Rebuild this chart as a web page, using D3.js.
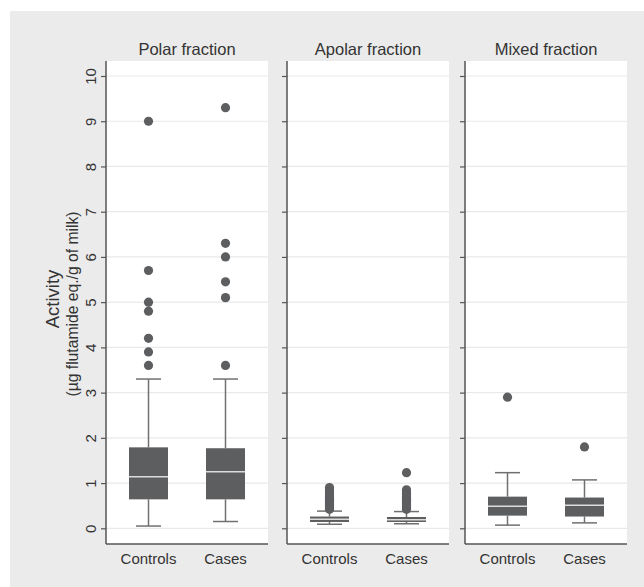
<!DOCTYPE html>
<html>
<head>
<meta charset="utf-8">
<script src="https://cdn.jsdelivr.net/npm/d3@7/dist/d3.min.js"></script>
<style>
  html, body { margin: 0; padding: 0; background: #ffffff; }
  svg { display: block; font-family: "Liberation Sans", Arial, sans-serif; }
</style>
</head>
<body>
<svg id="chart" width="644" height="587"></svg>
<script>
// Activity of milk fractions by group
const fractions = ["Polar fraction", "Apolar fraction", "Mixed fraction"];
const groups = ["Controls", "Cases"];
const yTicks = [0, 1, 2, 3, 4, 5, 6, 7, 8, 9, 10];

// Box summaries: [lower whisker, Q1, median, Q3, upper whisker]
const polarControls = [0.05, 0.64, 1.14, 1.79, 3.30];
const polarCases = [0.15, 0.64, 1.25, 1.77, 3.30];
const apolarControls = [0.09, 0.14, 0.20, 0.26, 0.38];
const apolarCases = [0.10, 0.14, 0.19, 0.25, 0.37];
const mixedControls = [0.07, 0.28, 0.49, 0.70, 1.23];
const mixedCases = [0.12, 0.26, 0.51, 0.68, 1.07];

// Outside values
const polarControlsOut = [3.6, 3.9, 4.2, 4.8, 5.0, 5.7, 9.0];
const polarCasesOut = [3.6, 5.1, 5.45, 6.0, 6.3, 9.3];
const apolarControlsOut = [0.42, 0.46, 0.5, 0.54, 0.58, 0.62, 0.66, 0.7, 0.75, 0.8, 0.85, 0.9];
const apolarCasesOut = [0.42, 0.46, 0.5, 0.54, 0.58, 0.62, 0.66, 0.7, 0.75, 0.8, 0.85, 1.23];
const mixedControlsOut = [2.9];
const mixedCasesOut = [1.8];

const boxes = [
  [polarControls, polarCases],
  [apolarControls, apolarCases],
  [mixedControls, mixedCases]
];
const outside = [
  [polarControlsOut, polarCasesOut],
  [apolarControlsOut, apolarCasesOut],
  [mixedControlsOut, mixedCasesOut]
];

const svg = d3.select("#chart");

// Outer graph region
svg.append("rect").attr("x", 10).attr("y", 11).attr("width", 634).attr("height", 576)
  .attr("fill", "#ebebeb");

const panelLeft = [106, 287, 465];
const panelW = 162;
const plotTop = 61, plotBottom = 544;

const y = d3.scaleLinear().domain([0, 10]).range([528.3, 76]);
const x = d3.scalePoint().domain(groups).range([0, panelW]).padding(0.552);

const boxW = 39, capW = 25, dotR = 4.6;
const dark = "#5d5e60", whisk = "#707070";

fractions.forEach((name, i) => {
  const g = svg.append("g").attr("transform", `translate(${panelLeft[i]},0)`);

  g.append("rect").attr("x", 0).attr("y", plotTop).attr("width", panelW)
    .attr("height", plotBottom - plotTop).attr("fill", "#ffffff");

  // grid
  g.selectAll("line.grid").data(yTicks).join("line")
    .attr("class", "grid")
    .attr("x1", 0).attr("x2", panelW)
    .attr("y1", d => y(d)).attr("y2", d => y(d))
    .attr("stroke", "#e9e9e9").attr("stroke-width", 1.2);

  // panel title
  g.append("text").attr("x", panelW / 2).attr("y", 55)
    .attr("text-anchor", "middle").attr("font-size", 16.5).attr("fill", "#333")
    .text(name);

  groups.forEach((grp, j) => {
    const s = boxes[i][j];
    const cx = x(grp);
    // whiskers
    g.append("line").attr("x1", cx).attr("x2", cx).attr("y1", y(s[0])).attr("y2", y(s[1]))
      .attr("stroke", whisk).attr("stroke-width", 1.5);
    g.append("line").attr("x1", cx).attr("x2", cx).attr("y1", y(s[3])).attr("y2", y(s[4]))
      .attr("stroke", whisk).attr("stroke-width", 1.5);
    [s[0], s[4]].forEach(v => {
      g.append("line").attr("x1", cx - capW / 2).attr("x2", cx + capW / 2)
        .attr("y1", y(v)).attr("y2", y(v))
        .attr("stroke", whisk).attr("stroke-width", 1.5);
    });
    // box
    g.append("rect").attr("x", cx - boxW / 2).attr("y", y(s[3]))
      .attr("width", boxW).attr("height", y(s[1]) - y(s[3]))
      .attr("fill", dark);
    g.append("line").attr("x1", cx - boxW / 2).attr("x2", cx + boxW / 2)
      .attr("y1", y(s[2])).attr("y2", y(s[2]))
      .attr("stroke", "#dcdcdc").attr("stroke-width", 1.5);
    // outside values
    g.selectAll(null).data(outside[i][j]).join("circle")
      .attr("cx", cx).attr("cy", d => y(d)).attr("r", dotR).attr("fill", dark);
  });

  // y axis
  const ax = g.append("g").call(
    d3.axisLeft(y).tickValues(yTicks).tickSize(5).tickPadding(8)
      .tickFormat(i === 0 ? d3.format("d") : () => "")
  );
  ax.select(".domain").remove();
  ax.selectAll(".tick line").attr("stroke", "#555").attr("stroke-width", 1.2);
  ax.selectAll(".tick text")
    .attr("font-size", 15).attr("fill", "#333")
    .attr("font-family", "\"Liberation Sans\", Arial, sans-serif")
    .attr("transform", "rotate(-90)")
    .attr("x", 0).attr("y", -15.5).attr("dy", "0.35em")
    .attr("text-anchor", "middle");

  g.append("line").attr("x1", 0).attr("x2", 0).attr("y1", plotTop).attr("y2", plotBottom)
    .attr("stroke", "#555").attr("stroke-width", 1.5);
  g.append("line").attr("x1", 0).attr("x2", panelW).attr("y1", plotBottom).attr("y2", plotBottom)
    .attr("stroke", "#555").attr("stroke-width", 1.5);

  // category labels
  g.selectAll(null).data(groups).join("text")
    .attr("x", d => x(d)).attr("y", 564)
    .attr("text-anchor", "middle").attr("font-size", 15).attr("fill", "#333")
    .text(d => d);
});

// y axis title
svg.append("text")
  .attr("transform", "translate(59,299) rotate(-90)")
  .attr("text-anchor", "middle").attr("fill", "#333").attr("font-size", 18.5)
  .text("Activity");
svg.append("text")
  .attr("transform", "translate(78,304) rotate(-90)")
  .attr("text-anchor", "middle").attr("fill", "#333").attr("font-size", 15.7)
  .text("(µg flutamide eq./g of milk)");
</script>
</body>
</html>
